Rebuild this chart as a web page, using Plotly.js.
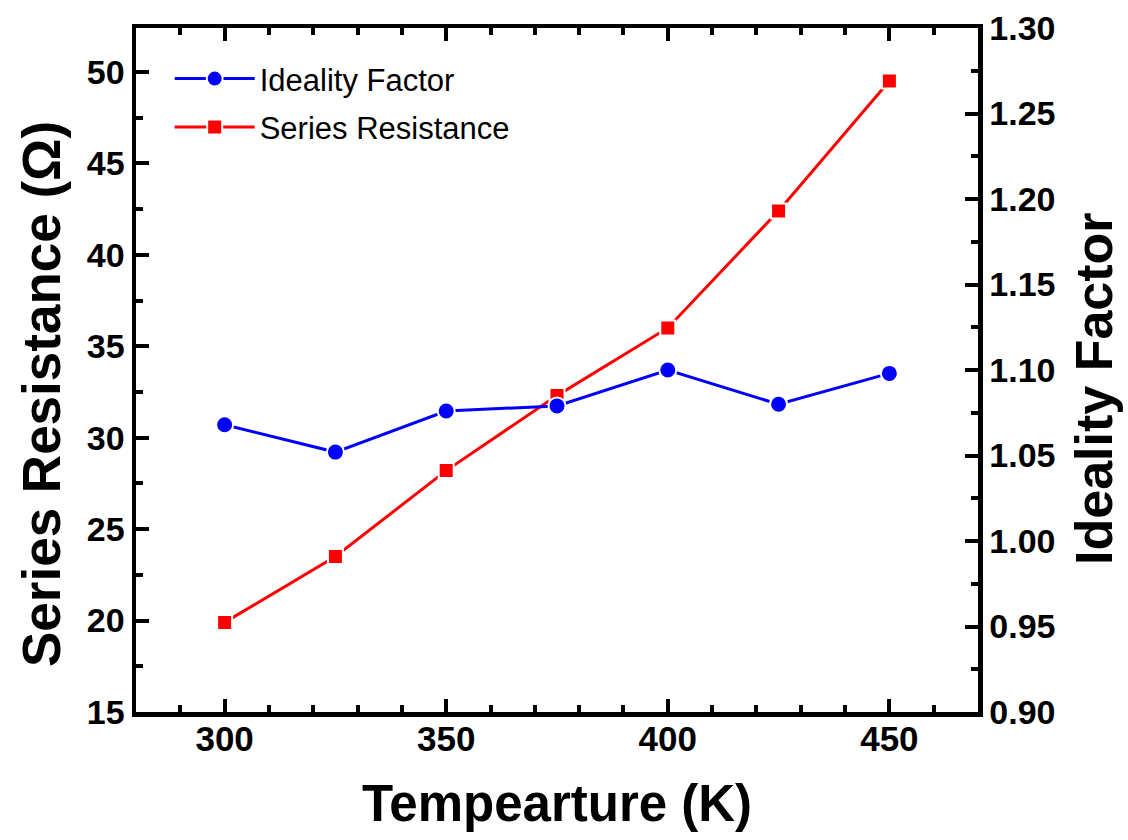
<!DOCTYPE html>
<html>
<head>
<meta charset="utf-8">
<script src="https://cdn.plot.ly/plotly-3.0.1.min.js"></script>
<style>
  html, body { margin: 0; padding: 0; background: #fff; }
  #chart { width: 1128px; height: 840px; }
</style>
</head>
<body>
<div id="chart"></div>
<script>
// Temperature dependence of diode parameters
const temperatureK = [300, 325, 350, 375, 400, 425, 450];
const idealityFactor = [1.068, 1.052, 1.076, 1.079, 1.100, 1.080, 1.098];
const seriesResistanceOhm = [19.9, 23.5, 28.2, 32.3, 36.0, 42.4, 49.5];

const xTitle = 'Tempearture (K)';
const yLeftTitle = 'Series Resistance (Ω)';
const yRightTitle = 'Ideality Factor';

const FONT = 'Arial, "Liberation Sans", sans-serif';

const traces = [
  {
    x: temperatureK,
    y: idealityFactor,
    name: 'Ideality Factor',
    yaxis: 'y2',
    type: 'scatter',
    mode: 'lines+markers',
    legendgroup: 'a',
    line: { color: '#0000ff', width: 3 },
    marker: { symbol: 'circle', size: 17, color: '#0000ff', line: { color: '#ffffff', width: 2 } }
  },
  {
    x: temperatureK,
    y: seriesResistanceOhm,
    name: 'Series Resistance',
    yaxis: 'y',
    type: 'scatter',
    mode: 'lines+markers',
    legendgroup: 'b',
    line: { color: '#ff0000', width: 3 },
    marker: { symbol: 'square', size: 15, color: '#ff0000', line: { color: '#ffffff', width: 2 } }
  }
];

const tickFont = { family: FONT, size: 34, color: '#000', weight: 'bold' };
const titleFont = { family: FONT, size: 53, color: '#000', weight: 'bold' };

// plot area in pixels, used to place the rotated axis titles
const M = { l: 136, r: 150, t: 28, b: 128 };
const W = 1128, H = 840;
const pw = W - M.l - M.r, ph = H - M.t - M.b;
const px = v => (v - M.l) / pw;
const py = v => 1 - (v - M.t) / ph;

const layout = {
  width: W,
  height: H,
  margin: M,
  paper_bgcolor: '#ffffff',
  plot_bgcolor: '#ffffff',
  showlegend: true,
  legend: {
    x: 0.04, y: 0.965, xanchor: 'left', yanchor: 'top',
    bgcolor: 'rgba(0,0,0,0)', borderwidth: 0,
    font: { family: FONT, size: 31, color: '#000' },
    itemwidth: 80,
    tracegroupgap: 5,
    traceorder: 'grouped'
  },
  xaxis: {
    range: [280, 470],
    tick0: 300, dtick: 50,
    ticks: 'inside', ticklen: 13, tickwidth: 4, tickcolor: '#000',
    minor: { dtick: 10, ticks: 'inside', ticklen: 7, tickwidth: 4, tickcolor: '#000' },
    showline: true, linewidth: 4.5, linecolor: '#000', mirror: 'ticks',
    showgrid: false, zeroline: false,
    tickfont: { family: FONT, size: 35, color: '#000', weight: 'bold' },
    ticklabelstandoff: -8,
    title: { text: xTitle, font: { family: FONT, size: 51, color: '#000', weight: 'bold' }, standoff: 30 }
  },
  yaxis: {
    range: [15, 52.4],
    tick0: 15, dtick: 5,
    ticks: 'inside', ticklen: 13, tickwidth: 4, tickcolor: '#000',
    minor: { dtick: 2.5, ticks: 'inside', ticklen: 7, tickwidth: 4, tickcolor: '#000' },
    showline: true, linewidth: 4.5, linecolor: '#000',
    showgrid: false, zeroline: false,
    tickfont: tickFont
  },
  yaxis2: {
    overlaying: 'y',
    side: 'right',
    range: [0.9, 1.3],
    tick0: 0.9, dtick: 0.05, tickformat: '.2f',
    ticks: 'inside', ticklen: 13, tickwidth: 4, tickcolor: '#000',
    minor: { dtick: 0.025, ticks: 'inside', ticklen: 7, tickwidth: 4, tickcolor: '#000' },
    showline: true, linewidth: 4.5, linecolor: '#000',
    showgrid: false, zeroline: false,
    tickfont: tickFont
  },
  annotations: [
    {
      text: yLeftTitle, textangle: -90, showarrow: false,
      xref: 'paper', yref: 'paper', x: px(41), y: py(394),
      xanchor: 'center', yanchor: 'middle',
      font: titleFont
    },
    {
      text: yRightTitle, textangle: -90, showarrow: false,
      xref: 'paper', yref: 'paper', x: px(1094), y: py(389),
      xanchor: 'center', yanchor: 'middle',
      font: { family: FONT, size: 52, color: '#000', weight: 'bold' }
    }
  ]
};

Plotly.newPlot('chart', traces, layout, { displayModeBar: false, staticPlot: true });
</script>
</body>
</html>
